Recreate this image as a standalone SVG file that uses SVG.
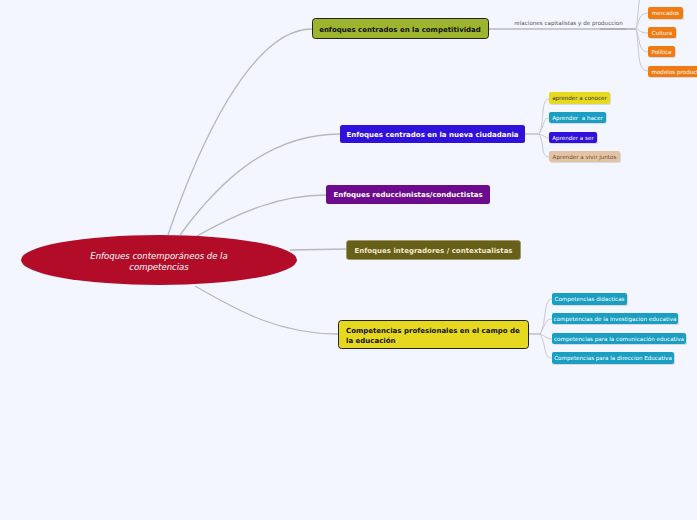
<svg xmlns="http://www.w3.org/2000/svg" width="697" height="520" viewBox="0 0 697 520">
<style>
text{font-family:"DejaVu Sans","Verdana",sans-serif;}
.lk{fill:none;stroke:#b9b9bd;stroke-width:1.3;}
.lk2{fill:none;stroke:#c9c9cf;stroke-width:1;}
.main{font-size:7px;font-weight:bold;}
.sub{font-size:5.6px;}
.sh{fill:#d6d8e2;}
</style>
<rect width="697" height="520" fill="#f3f6fe"/>
<g id="connectors">
<path class="lk" d="M168,235 C197,150 250,29 312,29"/>
<path class="lk" d="M180,235 C220,180 270,134 340,134"/>
<path class="lk" d="M197,236 C240,212 280,195 326,195"/>
<path class="lk" d="M290,250 L346,249"/>
<path class="lk" d="M195,286 C240,312 280,334 338,334"/>
<path class="lk" d="M488,29 L626,29"/>
<path d="M600,29 L636,29" stroke="#a9a9ad" stroke-width="1.6" fill="none"/>
<path class="lk2" d="M636,29 C638,20 638,5 640,-2"/>
<path class="lk2" d="M636,29 C640,20 638,14 648,13"/>
<path class="lk2" d="M636,29 C640,30 640,33 648,33"/>
<path class="lk2" d="M636,29 C640,38 638,52 648,52"/>
<path class="lk2" d="M636,29 C640,48 636,71 648,71"/>
<path class="lk" d="M525,134 L539,134"/>
<path class="lk2" d="M539,134 C545,124 540,99 549,99"/>
<path class="lk2" d="M539,134 C545,124 543,118 549,118"/>
<path class="lk2" d="M539,134 C544,135 545,138 549,138"/>
<path class="lk2" d="M539,134 C545,144 540,157 549,157"/>
<path class="lk" d="M528,334 L540,334"/>
<path class="lk2" d="M540,334 C547,322 543,299 552,299"/>
<path class="lk2" d="M540,334 C546,324 545,319 552,319"/>
<path class="lk2" d="M540,334 C546,336 546,339 552,339"/>
<path class="lk2" d="M540,334 C547,346 543,358 552,358"/>
<text x="568.5" y="25" font-size="5.6" fill="#555" text-anchor="middle">relaciones capitalistas y de produccion</text>
</g>
<g id="central">
<ellipse cx="159" cy="260" rx="138" ry="25" fill="#b20c28"/>
<text x="159" y="259" font-size="8.5" font-style="italic" fill="#fff" text-anchor="middle">Enfoques contemporáneos de la</text>
<text x="159" y="270" font-size="8.5" font-style="italic" fill="#fff" text-anchor="middle">competencias</text>
</g>
<g id="n1">
<rect x="312.5" y="18.5" width="176" height="20" rx="3" fill="#9cb42e" stroke="#222" stroke-width="1"/>
<text class="main" x="400" y="31.5" text-anchor="middle" fill="#111">enfoques centrados en la competitividad</text>
</g>
<g id="n1a"><rect class="sh" x="649" y="8" width="35" height="12" rx="2"/><rect x="648" y="7" width="35" height="12" rx="2" fill="#f07b12"/><text class="sub" x="665.5" y="15.2" text-anchor="middle" fill="#fff">mercados</text></g>
<g id="n1b"><rect class="sh" x="649" y="28" width="28" height="11" rx="2"/><rect x="648" y="27" width="28" height="11" rx="2" fill="#f07b12"/><text class="sub" x="662" y="34.7" text-anchor="middle" fill="#fff">Cultura</text></g>
<g id="n1c"><rect class="sh" x="649" y="47" width="27" height="11" rx="2"/><rect x="648" y="46" width="27" height="11" rx="2" fill="#f07b12"/><text class="sub" x="661.5" y="53.7" text-anchor="middle" fill="#fff">Política</text></g>
<g id="n1d"><rect class="sh" x="649" y="67" width="60" height="11" rx="2"/><rect x="648" y="66" width="60" height="11" rx="2" fill="#f07b12"/><text class="sub" x="651.5" y="73.7" fill="#fff">modelos productivos</text></g>
<g id="n2">
<rect x="340" y="125" width="185" height="18" rx="2.5" fill="#2f10dc"/>
<text class="main" x="432.5" y="136.6" text-anchor="middle" fill="#fff">Enfoques centrados en la nueva ciudadania</text>
</g>
<g id="n2a"><rect class="sh" x="550" y="93" width="61" height="12" rx="2"/><rect x="549" y="92" width="61" height="12" rx="2" fill="#e7d820"/><text class="sub" x="579.5" y="100.2" text-anchor="middle" fill="#333">aprender a conocer</text></g>
<g id="n2b"><rect class="sh" x="550" y="113" width="57" height="11" rx="2"/><rect x="549" y="112" width="57" height="11" rx="2" fill="#1a9ec2"/><text class="sub" x="577.5" y="119.7" text-anchor="middle" fill="#fff" xml:space="preserve">Aprender  a hacer</text></g>
<g id="n2c"><rect class="sh" x="550" y="133" width="48" height="11" rx="2"/><rect x="549" y="132" width="48" height="11" rx="2" fill="#2f10dc"/><text class="sub" x="573" y="139.7" text-anchor="middle" fill="#fff">Aprender a ser</text></g>
<g id="n2d"><rect class="sh" x="550" y="152" width="71" height="11" rx="2"/><rect x="549" y="151" width="71" height="11" rx="2" fill="#e2c3a3"/><text class="sub" x="584.5" y="158.7" text-anchor="middle" fill="#6a5038">Aprender a vivir juntos</text></g>
<g id="n3">
<rect x="326" y="185" width="164" height="19" rx="2.5" fill="#6d0b8f"/>
<text class="main" x="408" y="197" text-anchor="middle" fill="#fff">Enfoques reduccionistas/conductistas</text>
</g>
<g id="n4">
<rect x="346.5" y="240.5" width="174" height="19" rx="2.5" fill="#686019" stroke="#9c9560" stroke-width="0.8"/>
<text class="main" x="433.5" y="252.5" text-anchor="middle" fill="#efe9cc">Enfoques integradores / contextualistas</text>
</g>
<g id="n5">
<rect x="338.5" y="320.5" width="190" height="28" rx="3" fill="#e6d81e" stroke="#222" stroke-width="1"/>
<text class="main" x="346" y="332.5" fill="#111">Competencias profesionales en el campo de</text>
<text class="main" x="346" y="342.5" fill="#111">la educación</text>
</g>
<g id="n5a"><rect class="sh" x="553" y="294" width="75" height="12" rx="2"/><rect x="552" y="293" width="75" height="12" rx="2" fill="#1a9ec2"/><text class="sub" x="589.5" y="301.2" text-anchor="middle" fill="#fff">Competencias didacticas</text></g>
<g id="n5b"><rect class="sh" x="553" y="314" width="126" height="11" rx="2"/><rect x="552" y="313" width="126" height="11" rx="2" fill="#1a9ec2"/><text class="sub" x="615" y="320.7" text-anchor="middle" fill="#fff">competencias de la investigacion educativa</text></g>
<g id="n5c"><rect class="sh" x="553" y="334" width="134" height="11" rx="2"/><rect x="552" y="333" width="134" height="11" rx="2" fill="#1a9ec2"/><text class="sub" x="619" y="340.7" text-anchor="middle" fill="#fff">competencias para la comunicación educativa</text></g>
<g id="n5d"><rect class="sh" x="553" y="353" width="122" height="12" rx="2"/><rect x="552" y="352" width="122" height="12" rx="2" fill="#1a9ec2"/><text class="sub" x="613" y="360.2" text-anchor="middle" fill="#fff">Competencias para la direccion Educativa</text></g>
</svg>
